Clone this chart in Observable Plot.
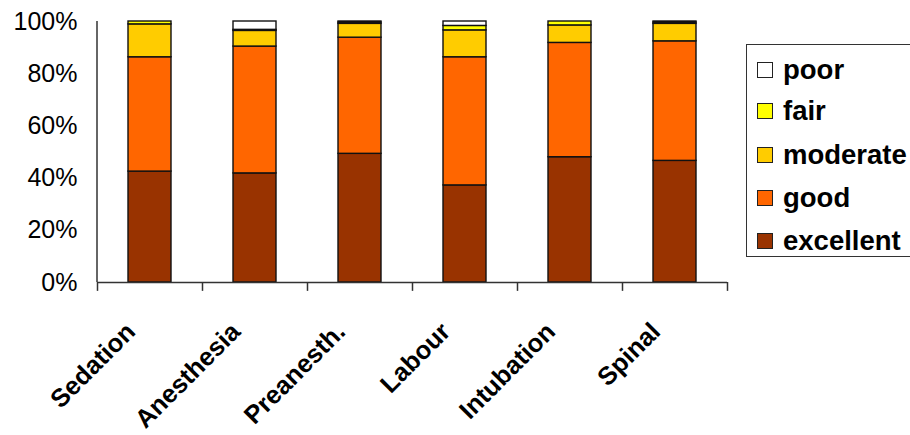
<!DOCTYPE html>
<html>
<head>
<meta charset="utf-8">
<script src="https://cdn.jsdelivr.net/npm/d3@7"></script>
<script src="https://cdn.jsdelivr.net/npm/@observablehq/plot@0.6"></script>
<style>
  html, body { margin: 0; padding: 0; background: #fff; }
  #wrap { position: relative; width: 910px; height: 435px; overflow: hidden; font-family: "Liberation Sans", Arial, sans-serif; }
  #legend { position: absolute; left: 746px; top: 44px; width: 180px; height: 213px; border: 1.5px solid #333; background: #fff; box-sizing: border-box; }
  .row { position: absolute; left: 10px; display: flex; align-items: center; font-weight: bold; font-size: 27.5px; color: #000; height: 30px; }
  .sw { width: 14px; height: 14px; border: 1.5px solid #222; margin-right: 10px; }
</style>
</head>
<body>
<div id="wrap"></div>
<script>
const categories = ["Sedation", "Anesthesia", "Preanesth.", "Labour", "Intubation", "Spinal"];
const levels = ["excellent", "good", "moderate", "fair", "poor"];
const colors = ["#993300", "#FF6600", "#FFCC00", "#FFFF00", "#FFFFFF"];
const excellent = [42.5, 41.8, 49.3, 37.2, 48.0, 46.6];
const good      = [43.8, 48.6, 44.5, 49.1, 43.8, 45.8];
const moderate  = [12.6, 6.0, 5.3, 10.3, 6.7, 6.7];
const fair      = [1.1, 0.4, 0.5, 1.7, 1.5, 0.5];
const poor      = [0.0, 3.2, 0.4, 1.7, 0.0, 0.4];
const yTicks = [0, 20, 40, 60, 80, 100];

const series = {excellent, good, moderate, fair, poor};
const rows = [];
categories.forEach((c, i) => levels.forEach(l => rows.push({cat: c, level: l, value: series[l][i]})));

const W = 910, H = 435, mL = 97, mR = 183, mT = 21, mB = 153;
const step = (W - mL - mR) / categories.length;

const chart = Plot.plot({
  width: W, height: H,
  marginLeft: mL, marginRight: mR, marginTop: mT, marginBottom: mB,
  style: {fontFamily: "'Liberation Sans', Arial, sans-serif", background: "#fff", overflow: "visible"},
  x: {domain: categories, paddingInner: 0.588, paddingOuter: 0.294, label: null, axis: null},
  y: {domain: [0, 100], label: null, axis: null},
  color: {domain: levels, range: colors},
  marks: [
    Plot.barY(rows, Plot.stackY({x: "cat", y: "value", fill: "level", order: levels, stroke: "#111", strokeWidth: 1.4})),
    Plot.ruleY([0], {stroke: "#333", strokeWidth: 1.5}),
    Plot.ruleX(categories, {x: d => d, y1: 0, y2: -3.4, dx: -step / 2, stroke: "#333", strokeWidth: 1.5}),
    Plot.ruleX(categories.slice(-1), {x: d => d, y1: 0, y2: -3.4, dx: step / 2, stroke: "#333", strokeWidth: 1.5}),
    Plot.axisY(yTicks, {tickFormat: d => d + "%", tickSize: 0, tickPadding: 20, fontSize: 25, fill: "#000"}),
    Plot.axisX({tickSize: 0, tickRotate: -45, tickPadding: 45, dx: -19, fontSize: 25.5, fontWeight: "bold", fill: "#000"})
  ]
});

const wrap = document.getElementById("wrap");
wrap.appendChild(chart);
// y axis line
d3.select(chart).append("line").attr("x1", mL).attr("x2", mL).attr("y1", mT).attr("y2", H - mB)
  .attr("stroke", "#333").attr("stroke-width", 1.5);

const legend = document.createElement("div");
legend.id = "legend";
const rowTops = [69, 110, 154, 197, 240];
const legendOrder = ["poor", "fair", "moderate", "good", "excellent"];
legendOrder.forEach((l, i) => {
  const r = document.createElement("div");
  r.className = "row";
  r.style.top = (rowTops[i] - 44 - 15) + "px";
  const sw = document.createElement("div");
  sw.className = "sw";
  sw.style.background = colors[levels.indexOf(l)];
  r.appendChild(sw);
  r.appendChild(document.createTextNode(l));
  legend.appendChild(r);
});
wrap.appendChild(legend);
</script>
</body>
</html>
